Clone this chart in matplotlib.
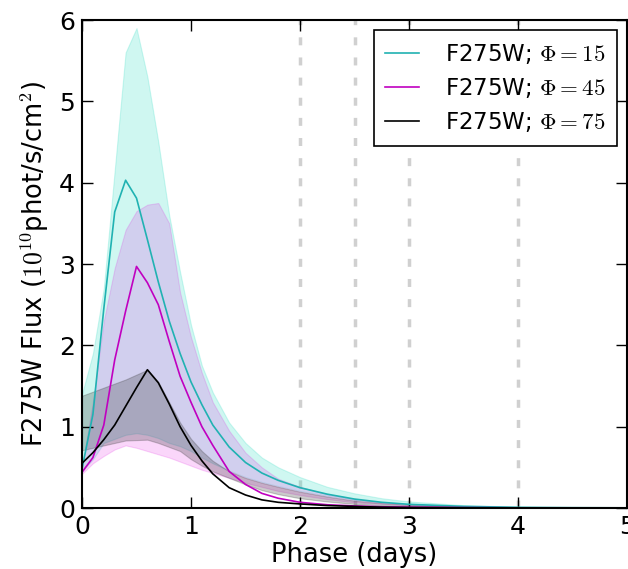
import matplotlib
matplotlib.use("Agg")
import matplotlib.pyplot as plt
import numpy as np

plt.rcParams['mathtext.fontset'] = 'cm'
plt.rcParams['font.family'] = ['DejaVu Sans']

# phase grid (days)
phase = [0, 0.1, 0.2, 0.3, 0.4, 0.5, 0.6, 0.7, 0.8, 0.9, 1.0, 1.1, 1.2, 1.35,
         1.5, 1.65, 1.8, 2.0, 2.25, 2.5, 2.75, 3.0, 3.5, 4.0, 4.5, 5.0]

# Phi = 15
flux_15 = [0.48, 1.15, 2.45, 3.64, 4.03, 3.81, 3.30, 2.78, 2.30, 1.90, 1.55, 1.27, 1.02, 0.75,
           0.56, 0.43, 0.34, 0.25, 0.17, 0.11, 0.07, 0.045, 0.02, 0.008, 0.004, 0.002]
hi_15 = [1.40, 1.90, 2.70, 4.15, 5.60, 5.90, 5.30, 4.50, 3.60, 2.90, 2.25, 1.75, 1.42, 1.05,
         0.80, 0.62, 0.50, 0.38, 0.26, 0.18, 0.12, 0.08, 0.035, 0.015, 0.007, 0.003]
lo_15 = [0.45, 0.60, 0.80, 0.85, 0.90, 0.92, 0.90, 0.86, 0.80, 0.76, 0.70, 0.62, 0.55, 0.46,
         0.38, 0.32, 0.27, 0.21, 0.15, 0.10, 0.07, 0.05, 0.02, 0.008, 0.003, 0.001]

# Phi = 45
flux_45 = [0.44, 0.62, 1.02, 1.82, 2.42, 2.97, 2.77, 2.50, 2.05, 1.62, 1.30, 1.00, 0.77, 0.45,
           0.29, 0.18, 0.12, 0.07, 0.04, 0.025, 0.015, 0.01, 0.005, 0.002, 0.001, 0.0]
hi_45 = [0.50, 1.30, 2.30, 2.95, 3.42, 3.65, 3.73, 3.75, 3.50, 2.65, 2.10, 1.66, 1.30, 0.95,
         0.68, 0.50, 0.36, 0.26, 0.17, 0.11, 0.07, 0.045, 0.018, 0.007, 0.003, 0.001]
lo_45 = [0.42, 0.55, 0.64, 0.72, 0.77, 0.74, 0.70, 0.66, 0.62, 0.57, 0.52, 0.47, 0.43, 0.37,
         0.31, 0.26, 0.21, 0.16, 0.11, 0.07, 0.05, 0.03, 0.012, 0.005, 0.002, 0.0]

# Phi = 75
flux_75 = [0.55, 0.68, 0.84, 1.02, 1.25, 1.48, 1.70, 1.54, 1.28, 1.00, 0.77, 0.58, 0.42, 0.25,
           0.16, 0.10, 0.07, 0.05, 0.03, 0.02, 0.01, 0.006, 0.003, 0.001, 0.0, 0.0]
hi_75 = [1.38, 1.43, 1.48, 1.53, 1.58, 1.64, 1.70, 1.55, 1.30, 1.05, 0.85, 0.70, 0.58, 0.45,
         0.37, 0.31, 0.26, 0.20, 0.14, 0.09, 0.06, 0.04, 0.016, 0.007, 0.003, 0.001]
lo_75 = [0.71, 0.74, 0.77, 0.80, 0.83, 0.835, 0.84, 0.80, 0.75, 0.70, 0.60, 0.52, 0.45, 0.37,
         0.29, 0.22, 0.17, 0.12, 0.08, 0.05, 0.03, 0.02, 0.008, 0.003, 0.001, 0.0]

vlines = [2.0, 2.5, 3.0, 4.0]

fig = plt.figure(figsize=(6.28, 5.69), dpi=100)
ax = fig.add_axes([82/628, 61/569, 545/628, 488/569])

for v in vlines:
    ax.axvline(v, color='#d0d0d0', lw=2.5, dashes=(2.3, 3.5), zorder=0)

# bands
ax.fill_between(phase, lo_15, hi_15, color='#40e0c8', alpha=0.25, lw=0.8)
ax.fill_between(phase, lo_45, hi_45, color='#e000e0', alpha=0.16, lw=0.8)
ax.fill_between(phase, lo_75, hi_75, color='#303030', alpha=0.25, lw=0.8)

ax.plot(phase, flux_15, color='#20b2b2', lw=1.2, label=r'F275W; $\Phi = 15$')
ax.plot(phase, flux_45, color='#c000c0', lw=1.2, label=r'F275W; $\Phi = 45$')
ax.plot(phase, flux_75, color='k', lw=1.2, label=r'F275W; $\Phi = 75$')

ax.set_xlim(0, 5)
ax.set_ylim(0, 6)
ax.set_xticks([0, 1, 2, 3, 4, 5])
ax.set_yticks([0, 1, 2, 3, 4, 5, 6])
ax.tick_params(direction='in', length=8, width=1, top=True, right=True,
               labelsize=18, pad=5)
for s in ax.spines.values():
    s.set_linewidth(1.5)

ax.set_xlabel('Phase (days)', fontsize=18.5, labelpad=2)
ax.set_ylabel(r'F275W Flux ($10^{10}$phot/s/cm$^2$)', fontsize=18.5, labelpad=6)

leg = ax.legend(loc='upper right', fontsize=16.5, fancybox=False, framealpha=1,
                edgecolor='k', handlelength=1.5, handletextpad=1.1,
                borderpad=0.5, labelspacing=0.45, borderaxespad=0.45)
leg.get_frame().set_linewidth(1.2)

fig.savefig('out.png', dpi=100)
